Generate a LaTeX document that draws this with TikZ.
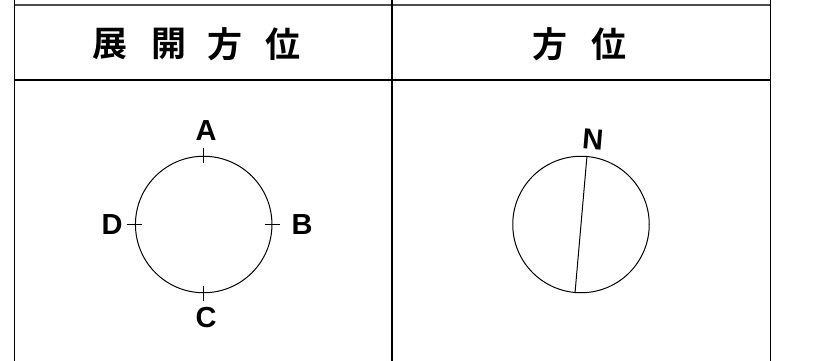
\documentclass[tikz,border=0pt]{standalone}
\usepackage{fontspec}
\setmainfont{Liberation Sans}
\newfontfamily\cjk{Noto Sans CJK JP}[BoldFont={Noto Sans CJK JP Bold}]
\begin{document}
\begin{tikzpicture}[x=1pt,y=-1pt,
  hdr/.style={inner sep=0pt, font=\cjk\bfseries\fontsize{35}{35}\selectfont},
  lbl/.style={inner sep=0pt, font=\bfseries\fontsize{29}{29}\selectfont},
  rim/.style={draw, circle, line width=1pt, minimum size=136.5pt, inner sep=0pt},
  rule/.style={line width=1.6pt, black},
  tick/.style={line width=1pt}]
\useasboundingbox (0,0) rectangle (828,361);
% table
\coordinate (tl) at (14,5);
\coordinate (tr) at (770.3,5);
\draw[line width=2pt, black!70] (tl) -- (tr);
\coordinate (v1t) at (14.3,0);   \coordinate (v1b) at (14.3,361);
\coordinate (v2t) at (391.7,0);  \coordinate (v2b) at (391.7,361);
\coordinate (v3t) at (770.3,0);  \coordinate (v3b) at (770.3,361);
\draw[rule] (v1t) -- (v1b);
\draw[rule] (v2t) -- (v2b);
\draw[rule] (v3t) -- (v3b);
\coordinate (hl) at (14.3,80); \coordinate (hr) at (770.3,80);
\draw[line width=1.3pt] (hl) -- (hr);
% headers
\node[hdr] (h1) at (110,44) {展};
\node[hdr] (h2) at (168.5,44) {開};
\node[hdr] (h3) at (224.5,44) {方};
\node[hdr] (h4) at (282.5,44) {位};
\node[hdr] (h5) at (549.5,44) {方};
\node[hdr] (h6) at (609,44) {位};
% left circle
\node[rim] (c1) at (203.7,224.5) {};
\draw[tick] ([yshift=-7.5pt]c1.north) -- ([yshift=7.5pt]c1.north);
\draw[tick] ([yshift=-7.5pt]c1.south) -- ([yshift=7.5pt]c1.south);
\draw[tick] ([xshift=-7.5pt]c1.west) -- ([xshift=7.5pt]c1.west);
\draw[tick] ([xshift=-7.5pt]c1.east) -- ([xshift=7.5pt]c1.east);
\node[lbl] (la) at (206,131) {A};
\node[lbl] (lb) at (302,225) {B};
\node[lbl] (lc) at (206,318) {C};
\node[lbl] (ld) at (112,225) {D};
% right circle
\node[rim] (c2) at (581,224.5) {};
\draw[tick] (c2.85) -- (c2.265);
\node[lbl, rotate=-5] (ln) at (593,139.5) {N};
\end{tikzpicture}
\end{document}
